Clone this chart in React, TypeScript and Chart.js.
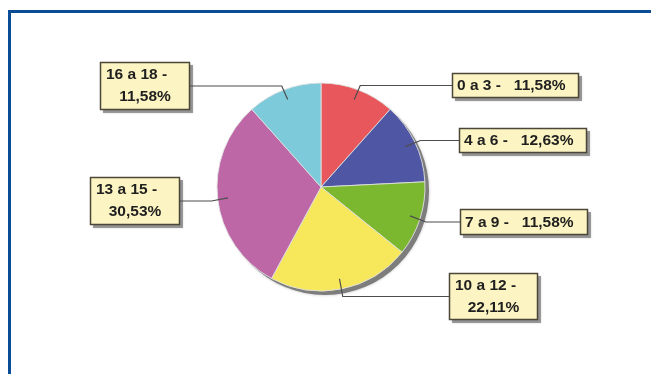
import React, { useEffect, useRef } from "react";
import { Chart, registerables } from "chart.js";

Chart.register(...registerables);

// ---- data ----
const categories = ["0 a 3", "4 a 6", "7 a 9", "10 a 12", "13 a 15", "16 a 18"];
const percentages = [11.58, 12.63, 11.58, 22.11, 30.53, 11.58];
const sliceColors = ["#e8575b", "#4f56a3", "#7bb82f", "#f6e75b", "#bd67a7", "#7dcadb"];

// ---- callout layout (page px) ----
const boxLeft = [452, 459, 460, 449, 90, 100];
const boxTop = [73, 128, 209, 273, 177, 62];
const boxWidth = [127, 128, 128, 89, 90, 90];
const boxHeight = [25, 25, 26, 47, 48, 48];
const twoLine = [false, false, false, true, true, true];

const fmt = (v: number) => v.toFixed(2).replace(".", ",") + "%";

const calloutPlugin = {
  id: "callouts",
  beforeDatasetsDraw(chart: any) {
    const ctx = chart.ctx;
    const arc = chart.getDatasetMeta(0).data[0];
    if (!arc) return;
    const { x, y, outerRadius } = arc.getProps(["x", "y", "outerRadius"], true);
    ctx.save();
    ctx.fillStyle = "#7d7d7d";
    ctx.shadowColor = "rgba(0,0,0,0.25)";
    ctx.shadowBlur = 3;
    ctx.beginPath();
    ctx.arc(x + 4, y + 4, outerRadius, 0, Math.PI * 2);
    ctx.fill();
    ctx.restore();
  },
  afterDatasetsDraw(chart: any) {
    const ctx = chart.ctx;
    const arcs = chart.getDatasetMeta(0).data;
    arcs.forEach((arc: any, i: number) => {
      const { x, y, startAngle, endAngle, outerRadius } = arc.getProps(
        ["x", "y", "startAngle", "endAngle", "outerRadius"],
        true
      );
      const mid = (startAngle + endAngle) / 2;
      const ax = x + Math.cos(mid) * outerRadius * 0.9;
      const ay = y + Math.sin(mid) * outerRadius * 0.9;
      const bl = boxLeft[i], bt = boxTop[i], bw = boxWidth[i], bh = boxHeight[i];
      const by = bt + bh / 2;
      const ex = x + Math.cos(mid) * outerRadius * 1.06;
      const edgeX = bl > x ? bl : bl + bw;
      // leader line
      ctx.save();
      ctx.strokeStyle = "#4d4d4d";
      ctx.lineWidth = 1.2;
      ctx.beginPath();
      ctx.moveTo(ax, ay);
      ctx.lineTo(ex, by);
      ctx.lineTo(edgeX, by);
      ctx.stroke();
      ctx.restore();
      // box shadow
      ctx.save();
      ctx.fillStyle = "rgba(90,90,90,0.55)";
      ctx.shadowColor = "rgba(0,0,0,0.3)";
      ctx.shadowBlur = 2;
      ctx.fillRect(bl + 3, bt + 3, bw, bh);
      ctx.restore();
      // box
      ctx.save();
      ctx.fillStyle = "#fcf4c2";
      ctx.fillRect(bl, bt, bw, bh);
      ctx.strokeStyle = "#4a4638";
      ctx.lineWidth = 1.5;
      ctx.strokeRect(bl + 0.5, bt + 0.5, bw - 1, bh - 1);
      // text
      ctx.fillStyle = "#1f1f1f";
      ctx.font = "bold 15.5px 'Liberation Sans', Arial, sans-serif";
      ctx.textBaseline = "middle";
      if (twoLine[i]) {
        ctx.textAlign = "left";
        ctx.fillText(categories[i] + " -", bl + 6, bt + bh / 2 - 11);
        ctx.textAlign = "center";
        ctx.fillText(fmt(percentages[i]), bl + bw / 2, bt + bh / 2 + 11);
      } else {
        ctx.textAlign = "left";
        ctx.fillText(categories[i] + " -   " + fmt(percentages[i]), bl + 5, bt + bh / 2 + 0.5);
      }
      ctx.restore();
    });
  },
};

export default function App() {
  const canvasRef = useRef<HTMLCanvasElement | null>(null);

  useEffect(() => {
    if (!canvasRef.current) return;
    const chart = new Chart(canvasRef.current, {
      type: "pie",
      data: {
        labels: categories,
        datasets: [
          {
            data: percentages,
            backgroundColor: sliceColors,
            borderColor: "rgba(225,225,225,0.9)",
            borderWidth: 1,
          },
        ],
      },
      options: {
        responsive: false,
        animation: false,
        devicePixelRatio: 1,
        radius: 104,
        layout: { padding: { left: 217, right: 226, top: 83, bottom: 83 } },
        plugins: {
          legend: { display: false },
          tooltip: { enabled: false },
        },
      } as any,
      plugins: [calloutPlugin],
    });
    return () => chart.destroy();
  }, []);

  return (
    <div style={{ position: "fixed", left: 0, top: 0, width: 651, height: 374, background: "#fff", overflow: "hidden" }}>
      <canvas ref={canvasRef} width={651} height={374} style={{ position: "absolute", left: 0, top: 0 }} />
      <div
        style={{
          position: "absolute",
          left: 8,
          top: 10,
          width: 700,
          height: 400,
          borderLeft: "3px solid #0b4c97",
          borderTop: "3px solid #0b4c97",
          boxSizing: "border-box",
          pointerEvents: "none",
        }}
      />
    </div>
  );
}
